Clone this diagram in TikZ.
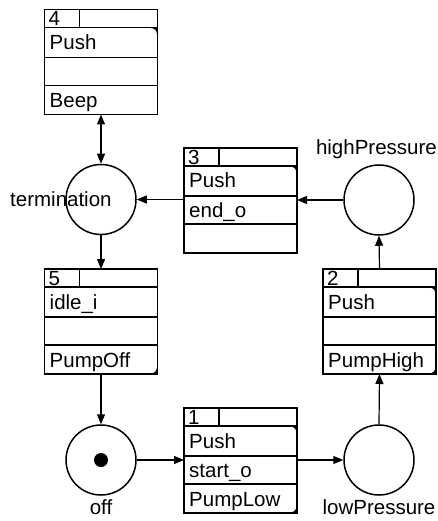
\documentclass[tikz,border=0pt]{standalone}
\usepackage{fontspec}
\setmainfont{Liberation Sans}
\usetikzlibrary{calc,arrows.meta}

% Transition box: name, x, y (top left), number, three inscription rows
\newcommand\transbox[7]{%
  \node[frame] (#1) at (#2,#3) {};
  \draw[rule] ($(#1.north west)+(0,18)$) -- ($(#1.north east)+(0,18)$);
  \draw[rule] ($(#1.north west)+(0,48)$) -- ($(#1.north east)+(0,48)$);
  \draw[rule] ($(#1.north west)+(0,76)$) -- ($(#1.north east)+(0,76)$);
  \draw[rule] ($(#1.north west)+(35,0)$) -- ($(#1.north west)+(35,18)$);
  \node[cell] (#1-n) at ($(#1.north west)+(4,16.5)$) {#4};
  \node[cell] (#1-a) at ($(#1.north west)+(5,40)$) {#5};
  \node[cell] (#1-b) at ($(#1.north west)+(5,69)$) {#6};
  \node[cell] (#1-c) at ($(#1.north west)+(5,98)$) {#7};
}
% Small rounded-corner marks
\newcommand\markup[1]{%
  \fill ($(#1.north east)+(-0.6,18.6)$) -- ++(-6,0)
    .. controls +(3.5,0) and +(0,-3.5) .. ++(6,6) -- cycle;}
\newcommand\markdown[1]{%
  \fill ($(#1.south east)+(-0.6,-0.6)$) -- ++(-6,0)
    .. controls +(3.5,0) and +(0,3.5) .. ++(6,-6) -- cycle;}

\begin{document}
\begin{tikzpicture}[x=1pt,y=-1pt,
  font=\fontsize{20.5}{24}\selectfont,
  frame/.style={draw, line width=1.2pt, minimum width=113pt, minimum height=105pt,
    anchor=north west, inner sep=0pt, outer sep=0pt},
  rule/.style={line width=1.2pt},
  place/.style={draw, circle, line width=1.5pt, minimum size=70pt, inner sep=0pt},
  cell/.style={anchor=base west, inner sep=0pt},
  arc/.style={-{Triangle[length=10pt,width=8pt]}, line width=1.2pt},
  biarc/.style={{Triangle[length=10pt,width=8pt]}-{Triangle[length=10pt,width=8pt]}, line width=1.2pt},
  lbl/.style={inner sep=0pt},
]
\useasboundingbox (0,0) rectangle (438,521);

% transitions
\transbox{b4}{44.5}{9.5}{4}{Push}{}{Beep}
\transbox{b3}{184}{148}{3}{Push}{end\_o}{}
\transbox{b5}{44.5}{269}{5}{idle\_i}{}{PumpOff}
\transbox{b2}{323}{269}{2}{Push}{}{PumpHigh}
\transbox{b1}{184}{408}{1}{Push}{start\_o}{PumpLow}
\markup{b4}
\markup{b3}
\markdown{b5}
\markup{b2}\markdown{b2}
\markup{b1}\markdown{b1}

% places
\node[place] (term) at (101,199.5) {};
\node[place] (high) at (379,200) {};
\node[place] (off) at (101,460) {};
\node[place] (low) at (379,460) {};
\fill (off.center) circle (7);

% place labels
\node[lbl, anchor=base west] (termlbl) at (10,207) {termination};
\node[lbl, anchor=base east] (highlbl) at (437,155) {highPressure};
\node[lbl, anchor=base] (offlbl) at (101,514) {off};
\node[lbl, anchor=base] (lowlbl) at (379,514) {lowPressure};

% arcs
\draw[biarc] (b4.south) -- (term.north);
\draw[arc] (term.south) -- (b5.north);
\draw[arc] (b5.south) -- (off.north);
\draw[arc] (off.east) -- (b1.west |- off.east);
\draw[arc] (b1.east |- low.west) -- (low.west);
\draw[arc] (low.north) -- (b2.south);
\draw[arc] (b2.north) -- (high.south);
\draw[arc] (high.west) -- (b3.east |- high.west);
\draw[arc] (b3.west |- term.east) -- (term.east);
\end{tikzpicture}
\end{document}
